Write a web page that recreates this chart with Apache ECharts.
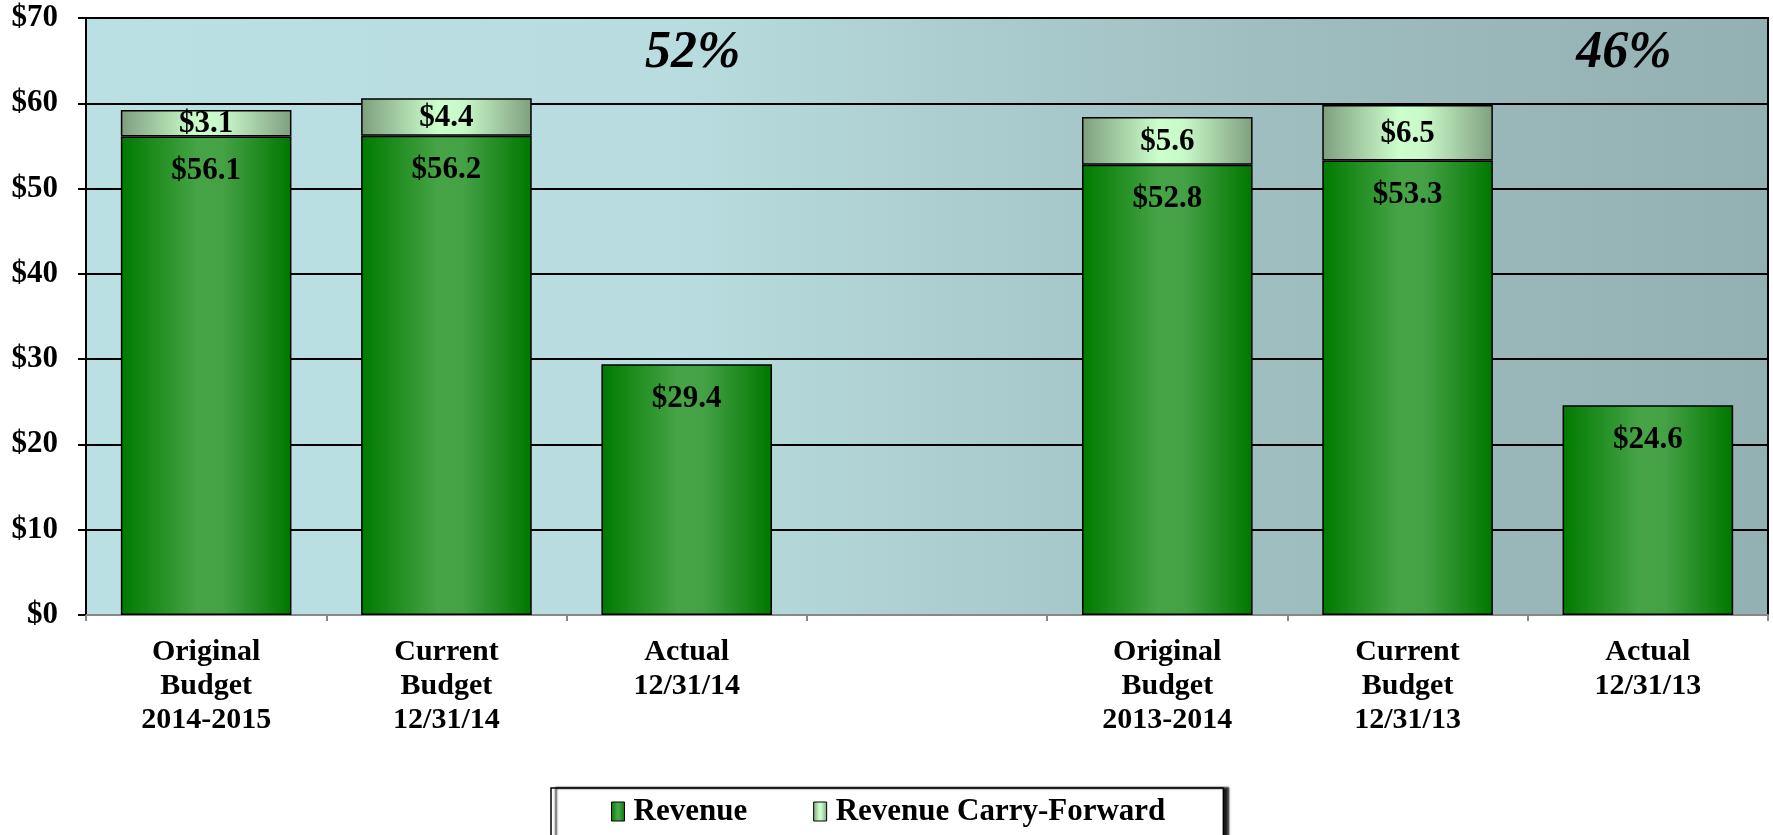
<!DOCTYPE html>
<html>
<head>
<meta charset="utf-8">
<script src="https://cdn.jsdelivr.net/npm/echarts@6/dist/echarts.min.js"></script>
<style>
  html, body { margin: 0; padding: 0; background: #fff; }
  #chart { width: 1773px; height: 835px; }
</style>
</head>
<body>
<div id="chart"></div>
<script>
// categories (blank slot separates the two years)
var categories = [
  'Original\nBudget\n2014-2015', 'Current\nBudget\n12/31/14', 'Actual\n12/31/14', '',
  'Original\nBudget\n2013-2014', 'Current\nBudget\n12/31/13', 'Actual\n12/31/13'
];
var revenue = [56.1, 56.2, 29.4, '-', 52.8, 53.3, 24.6];
var carryForward = [3.1, 4.4, '-', '-', 5.6, 6.5, '-'];
var percentLabels = ['52%', '46%'];
var percentAt = [2, 6];
var yTicks = { min: 0, max: 70, interval: 10 };

var font = 'Liberation Serif';

var greenFill = {
  type: 'linear', x: 0, y: 0, x2: 1, y2: 0,
  colorStops: [
    { offset: 0, color: '#007a00' },
    { offset: 0.45, color: '#46a446' },
    { offset: 0.6, color: '#45a145' },
    { offset: 1, color: '#007800' }
  ]
};
var paleFill = {
  type: 'linear', x: 0, y: 0, x2: 1, y2: 0,
  colorStops: [
    { offset: 0, color: '#7e9e7e' },
    { offset: 0.45, color: '#ccffcc' },
    { offset: 0.6, color: '#c8f8c8' },
    { offset: 1, color: '#7f9f7f' }
  ]
};

var myChart = echarts.init(document.getElementById('chart'));

var marks = percentLabels.map(function (t, i) {
  return {
    coord: [percentAt[i], 65.8],
    value: t,
    label: { offset: [i === 1 ? -24 : 6, 0] }
  };
});

function money(p) { return '$' + p.value.toFixed(1); }

myChart.setOption({
  animation: false,
  textStyle: { fontFamily: font },
  grid: {
    left: 86, right: 5, top: 18, bottom: 220,
    show: true,
    borderColor: '#000',
    borderWidth: 2,
    backgroundColor: {
      type: 'linear', x: 0, y: 0, x2: 1, y2: 0,
      colorStops: [
        { offset: 0, color: '#bbe0e3' },
        { offset: 0.35, color: '#b8dcdf' },
        { offset: 0.7, color: '#9fbec0' },
        { offset: 1, color: '#93b0b2' }
      ]
    }
  },
  legend: {
    top: 788,
    left: 551,
    data: ['Revenue', 'Revenue Carry-Forward'],
    icon: 'rect',
    itemWidth: 13,
    itemHeight: 19,
    itemGap: 66,
    padding: [8, 58, 30, 60],
    backgroundColor: '#fff',
    borderColor: '#000',
    borderWidth: 1.5,
    shadowColor: 'rgba(0,0,0,0.9)',
    shadowBlur: 2,
    shadowOffsetX: 5,
    shadowOffsetY: 0,
    itemStyle: { borderColor: '#000', borderWidth: 1 },
    textStyle: { fontFamily: font, fontSize: 31, fontWeight: 'bold', color: '#000', padding: [0, 0, 0, 4] }
  },
  xAxis: {
    type: 'category',
    data: categories,
    axisLine: { lineStyle: { color: '#888', width: 2 } },
    axisTick: { show: true, length: 6, lineStyle: { color: '#888', width: 2 } },
    axisLabel: {
      interval: 0,
      margin: 20,
      color: '#000',
      fontFamily: font,
      fontSize: 30,
      fontWeight: 'bold',
      lineHeight: 34
    }
  },
  yAxis: {
    type: 'value',
    min: yTicks.min,
    max: yTicks.max,
    interval: yTicks.interval,
    axisLine: { show: true, lineStyle: { color: '#000', width: 2 } },
    axisTick: { show: true, length: 8, lineStyle: { color: '#000', width: 2 } },
    splitLine: { lineStyle: { color: '#000', width: 2 } },
    axisLabel: {
      margin: 28,
      color: '#000',
      fontFamily: font,
      fontSize: 31,
      fontWeight: 'bold',
      formatter: '${value}'
    }
  },
  series: [
    {
      name: 'Revenue',
      type: 'bar',
      stack: 'total',
      data: revenue,
      barWidth: '71%',
      itemStyle: { color: greenFill, borderColor: '#000', borderWidth: 1.5 },
      label: {
        show: true,
        position: 'insideTop',
        distance: 19,
        color: '#000',
        fontFamily: font,
        fontSize: 31,
        fontWeight: 'bold',
        formatter: money
      }
    },
    {
      name: 'Revenue Carry-Forward',
      type: 'bar',
      stack: 'total',
      data: carryForward,
      barWidth: '71%',
      itemStyle: { color: paleFill, borderColor: '#000', borderWidth: 1.5 },
      label: {
        show: true,
        position: 'inside',
        offset: [0, 1],
        color: '#000',
        fontFamily: font,
        fontSize: 31,
        fontWeight: 'bold',
        formatter: money
      },
      markPoint: {
        symbol: 'circle',
        symbolSize: 0,
        silent: true,
        label: {
          show: true,
          position: 'inside',
          formatter: '{c}',
          color: '#000',
          fontFamily: font,
          fontSize: 52,
          fontWeight: 'bold',
          fontStyle: 'italic'
        },
        data: marks
      }
    }
  ]
});
</script>
</body>
</html>
